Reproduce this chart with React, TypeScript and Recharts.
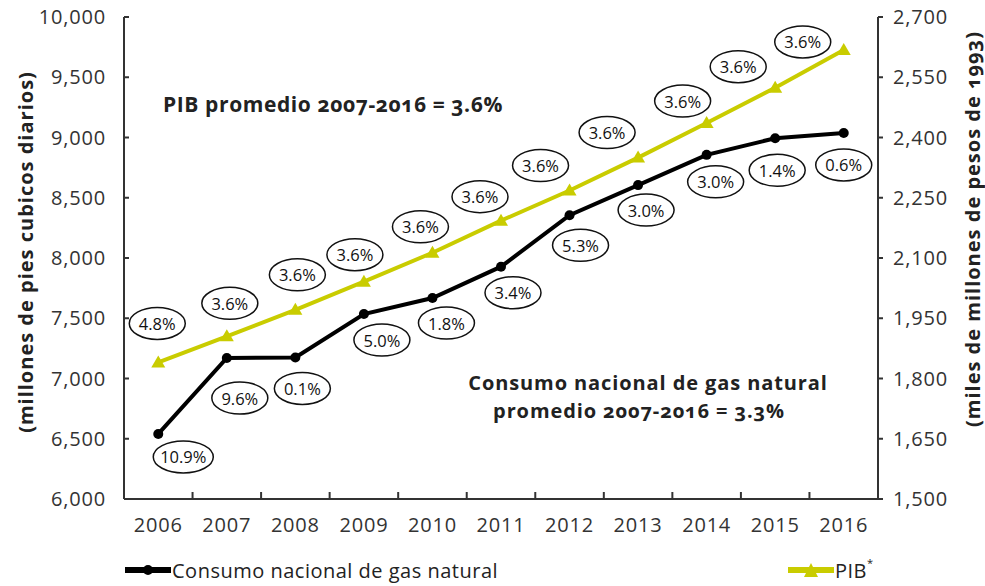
import React from "react";
import {
  LineChart,
  Line,
  XAxis,
  YAxis,
  LabelList,
  Legend,
  Customized,
} from "recharts";

// datos
const years = ["2006", "2007", "2008", "2009", "2010", "2011", "2012", "2013", "2014", "2015", "2016"];
const gasConsumption = [6540, 7170, 7175, 7535, 7668, 7928, 8355, 8605, 8856, 8994, 9038];
const pib = [1840, 1905, 1971, 2041, 2113, 2193, 2268, 2350, 2436, 2524, 2618];
const gasGrowth = ["10.9%", "9.6%", "0.1%", "5.0%", "1.8%", "3.4%", "5.3%", "3.0%", "3.0%", "1.4%", "0.6%"];
const pibGrowth = ["4.8%", "3.6%", "3.6%", "3.6%", "3.6%", "3.6%", "3.6%", "3.6%", "3.6%", "3.6%", "3.6%"];
const leftTicks = [6000, 6500, 7000, 7500, 8000, 8500, 9000, 9500, 10000];
const rightTicks = [1500, 1650, 1800, 1950, 2100, 2250, 2400, 2550, 2700];

// layout of the circled labels, relative to their point
const gasLabelOffsets = [
  [25, 23], [13, 40], [7, 31], [18, 26], [14, 25], [12, 26],
  [11, 30], [8, 25], [9, 27], [2, 32], [0, 32],
];
const pibLabelOffsets = [
  [-1, -39], [3, -33], [2, -35], [-9, -27], [-12, -26], [-21, -24],
  [-29, -25], [-31, -25], [-24, -22], [-37, -21], [-41, -8],
];

const data = years.map((year, i) => ({
  year,
  gas: gasConsumption[i],
  pib: pib[i],
  gasLabel: gasGrowth[i],
  pibLabel: pibGrowth[i],
}));

const W = 985;
const H = 586;
const LEFT = 124;
const RIGHT = 878;
const TOP = 17;
const HALF_BAND = (RIGHT - LEFT) / years.length / 2;

const FONT = "'Open Sans', 'DejaVu Sans', sans-serif";
const YELLOW = "#c9cc00";
const AXIS = "#333";

const fmt = (v: number) => v.toLocaleString("en-US");

const circled = (offsets: number[][]) => (props: any) => {
  const { x, y, value, index } = props;
  const [dx, dy] = offsets[index] || [0, 0];
  const cx = x + dx;
  const cy = y + dy;
  const rx = 20 + String(value).length * 2;
  return (
    <g>
      <ellipse cx={cx} cy={cy} rx={rx} ry={16} fill="#fff" stroke="#111" strokeWidth={1.5} />
      <text
        x={cx}
        y={cy}
        textAnchor="middle"
        dominantBaseline="central"
        fontFamily={FONT}
        fontSize={16.5}
        fill="#111"
      >
        {value}
      </text>
    </g>
  );
};

const YearTick = (props: any) => {
  const { x, y, payload, index } = props;
  return (
    <g>
      {index < years.length - 1 && (
        <line x1={x + HALF_BAND} x2={x + HALF_BAND} y1={y} y2={y - 7} stroke={AXIS} strokeWidth={2} />
      )}
      <text
        x={x}
        y={y + 25}
        textAnchor="middle"
        dominantBaseline="central"
        fontFamily={FONT}
        fontSize={20}
        letterSpacing={0.8}
        fill="#333"
      >
        {payload.value}
      </text>
    </g>
  );
};

const Annotations = () => (
  <g
    fontFamily={FONT}
    fontWeight={700}
    fill="#222"
    letterSpacing={0.6}
    style={{ fontVariantNumeric: "oldstyle-nums" }}
  >
    <text x={163} y={112} fontSize={21}>
      PIB promedio 2007-2016 = 3.6%
    </text>
    <text x={648} y={390} fontSize={20} letterSpacing={0.9} textAnchor="middle">
      Consumo nacional de gas natural
    </text>
    <text x={639} y={418} fontSize={20} letterSpacing={0.9} textAnchor="middle">
      promedio 2007-2016 = 3.3%
    </text>
    <text x={25} y={252} fontSize={20} letterSpacing={1} textAnchor="middle" dominantBaseline="central" transform="rotate(-90 25 252)">
      (millones de pies cubicos diarios)
    </text>
    <text x={972} y={229} fontSize={20} letterSpacing={1} textAnchor="middle" dominantBaseline="central" transform="rotate(-90 972 229)">
      (miles de millones de pesos de 1993)
    </text>
  </g>
);

const LegendContent = (props: any) => {
  const { payload = [] } = props;
  const starts = [125, 788];
  return (
    <svg width={W} height={30}>
      {payload.map((item: any, i: number) => {
        const x0 = starts[i] ?? 125 + i * 660;
        const isPib = item.dataKey === "pib";
        return (
          <g key={item.value}>
            <line x1={x0} x2={x0 + 46} y1={15} y2={15} stroke={item.color} strokeWidth={6} />
            {isPib ? (
              <polygon points={`${x0 + 23},${8} ${x0 + 30},${22} ${x0 + 16},${22}`} fill={item.color} />
            ) : (
              <circle cx={x0 + 23} cy={15} r={5} fill={item.color} />
            )}
            <text
              x={x0 + 47}
              y={15}
              dominantBaseline="central"
              fontFamily={FONT}
              fontSize={20}
              letterSpacing={0.5}
              fill="#222"
            >
              {item.value}
              {isPib && (
                <tspan fontSize={11} dy={-8}>
                  *
                </tspan>
              )}
            </text>
          </g>
        );
      })}
    </svg>
  );
};

const Triangle = (props: any) => {
  const { cx, cy } = props;
  if (cx == null || cy == null) return null;
  return <polygon points={`${cx},${cy - 7} ${cx + 7},${cy + 5} ${cx - 7},${cy + 5}`} fill={YELLOW} />;
};

const axisTick = { fontFamily: FONT, fontSize: 20, fill: "#333", letterSpacing: 0.8 };

export default function App() {
  return (
    <div style={{ position: "absolute", left: 0, top: 0, width: W, height: H, background: "#fff" }}>
      <LineChart
        width={W}
        height={H}
        data={data}
        margin={{ top: TOP, right: 0, bottom: 47, left: 0 }}
      >
        <XAxis
          dataKey="year"
          scale="band"
          height={40}
          tickSize={0}
          tickMargin={0}
          tickLine={false}
          axisLine={{ stroke: AXIS, strokeWidth: 2 }}
          tick={<YearTick />}
          interval={0}
        />
        <YAxis
          yAxisId="left"
          width={LEFT}
          domain={[6000, 10000]}
          ticks={leftTicks}
          tickFormatter={fmt}
          tickSize={-5}
          tickMargin={23}
          axisLine={{ stroke: AXIS, strokeWidth: 2 }}
          tickLine={{ stroke: AXIS, strokeWidth: 2 }}
          tick={axisTick}
          interval={0}
        />
        <YAxis
          yAxisId="right"
          orientation="right"
          width={W - RIGHT}
          domain={[1500, 2700]}
          ticks={rightTicks}
          tickFormatter={fmt}
          tickSize={5}
          tickMargin={10}
          axisLine={{ stroke: AXIS, strokeWidth: 2 }}
          tickLine={{ stroke: AXIS, strokeWidth: 2 }}
          tick={{ ...axisTick, textAnchor: "start" }}
          interval={0}
        />
        <Legend
          layout="vertical"
          align="center"
          verticalAlign="middle"
          wrapperStyle={{ left: 0, top: 555, width: W, height: 30 }}
          content={<LegendContent />}
        />
        <Line
          yAxisId="right"
          dataKey="pib"
          name="PIB"
          stroke={YELLOW}
          strokeWidth={4}
          dot={<Triangle />}
          activeDot={false}
          isAnimationActive={false}
        >
          <LabelList dataKey="pibLabel" content={circled(pibLabelOffsets)} />
        </Line>
        <Line
          yAxisId="left"
          dataKey="gas"
          name="Consumo nacional de gas natural"
          stroke="#000"
          strokeWidth={4}
          dot={{ r: 5, fill: "#000", stroke: "#000", strokeWidth: 0 }}
          activeDot={false}
          isAnimationActive={false}
        >
          <LabelList dataKey="gasLabel" content={circled(gasLabelOffsets)} />
        </Line>
        <Customized component={<Annotations />} />
      </LineChart>
    </div>
  );
}
